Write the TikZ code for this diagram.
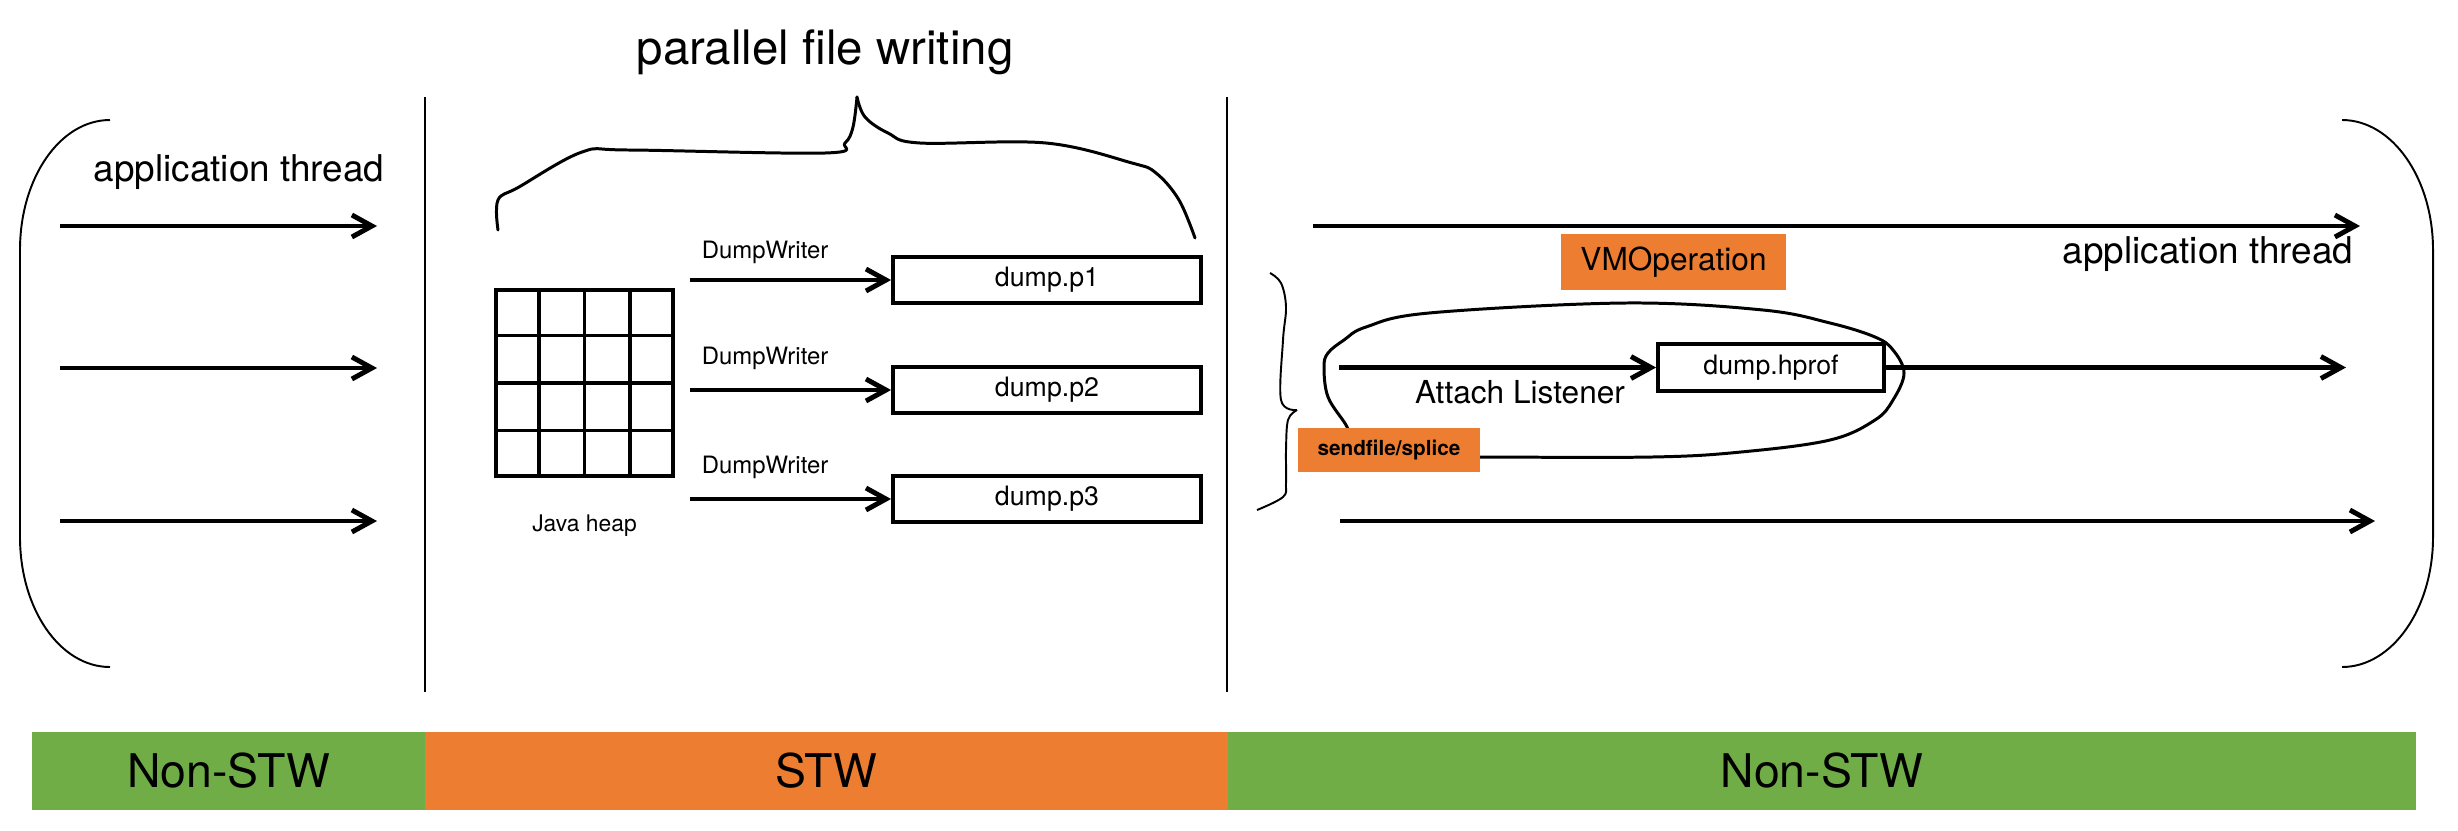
\documentclass[tikz,border=0pt]{standalone}
\usepackage{fontspec}
\setmainfont{TeX Gyre Heros}
\usetikzlibrary{arrows.meta, positioning, calc}
\definecolor{stworange}{RGB}{237, 125, 49}
\definecolor{nonstwgreen}{RGB}{112, 173, 71}
\tikzset{
  filebox/.style={rectangle, draw=black, line width=1.1pt, fill=white,
              minimum width=#1, minimum height=4.6mm, inner sep=0pt,
              font=\fontsize{7.6}{9}\selectfont},
  filebox/.default=30.8mm,
  opbox/.style={rectangle, fill=stworange, inner sep=0pt, minimum width=#1},
  phasebar/.style={rectangle, inner sep=0pt, minimum height=7.8mm,
              minimum width=#1, font=\fontsize{13.2}{15}\selectfont},
  thread/.style={-{Straight Barb[length=2mm, width=2.2mm]}, line width=1.4pt},
  handdrawn/.style={line width=0.85pt, line join=round, line cap=round},
  thinline/.style={line width=0.55pt},
}

\begin{document}
\begin{tikzpicture}[x=0.1mm, y=-0.1mm, every node/.style={inner sep=0pt}]
  \useasboundingbox (0,0) rectangle (2458,830);

  % title with its brace
  \node[font=\fontsize{13.5}{16}\selectfont] (title) at (825,52) {parallel file writing};
  \draw[handdrawn] plot[smooth, tension=0.6] coordinates {(498,230) (498,200) (519,187) (582,152)
        (629,150) (825,153) (845,143) (853,127) (857,97)};
  \draw[handdrawn] plot[smooth, tension=0.6] coordinates {(857,97) (865,117) (888,133) (920,143)
        (1046,143) (1132,163) (1156,173) (1179,200) (1195,238)};

  % round brackets
  \draw[thinline] (110,120) .. controls (60,120) and (20,178) .. (20,250) -- (20,537)
        .. controls (20,609) and (60,667) .. (110,667);
  \draw[thinline] (2342,120) .. controls (2392,120) and (2433,178) .. (2433,250) -- (2433,537)
        .. controls (2433,609) and (2392,667) .. (2342,667);

  % phase separators
  \draw[thinline] (425,97) -- (425,692);
  \draw[thinline] (1227,97) -- (1227,692);

  % left: application threads
  \node[font=\fontsize{10.5}{12}\selectfont] (appl) at (239,172) {application thread};
  \coordinate (la1) at (60,226);  \coordinate (lb1) at (377,226);
  \coordinate (la2) at (60,368);  \coordinate (lb2) at (377,368);
  \coordinate (la3) at (60,521);  \coordinate (lb3) at (377,521);
  \draw[thread] (la1) -- (lb1);
  \draw[thread] (la2) -- (lb2);
  \draw[thread] (la3) -- (lb3);

  % middle: heap split into parts
  \node[draw, line width=1.1pt, minimum width=17.7mm, minimum height=18.6mm] (heap) at (584.5,383) {};
  \foreach \i in {1,2,3} {
    \draw[line width=1.1pt] ($(heap.north west)!\i/4!(heap.north east)$) -- ($(heap.south west)!\i/4!(heap.south east)$);
    \draw[line width=1.1pt] ($(heap.north west)!\i/4!(heap.south west)$) -- ($(heap.north east)!\i/4!(heap.south east)$);
  }
  \node[font=\fontsize{6.5}{8}\selectfont, below=3.6mm of heap] (heaplbl) {Java heap};

  \node[filebox] (p1) at (1047,280) {dump.p1};
  \node[filebox] (p2) at (1047,390) {dump.p2};
  \node[filebox] (p3) at (1047,499) {dump.p3};
  \coordinate (w1) at (690,280);
  \coordinate (w2) at (690,390);
  \coordinate (w3) at (690,499);
  \draw[thread] (w1) -- (p1.west);
  \draw[thread] (w2) -- (p2.west);
  \draw[thread] (w3) -- (p3.west);
  \node[font=\fontsize{6.8}{8}\selectfont] (dw1) at (765,252) {DumpWriter};
  \node[font=\fontsize{6.8}{8}\selectfont] (dw2) at (765,358) {DumpWriter};
  \node[font=\fontsize{6.8}{8}\selectfont] (dw3) at (765,467) {DumpWriter};

  % right: application threads and the attach listener
  \coordinate (ra1) at (1313,226);  \coordinate (rb1) at (2360,226);
  \coordinate (ra3) at (1340,521);  \coordinate (rb3) at (2375,521);
  \draw[thread] (ra1) -- (rb1);
  \draw[thread] (ra3) -- (rb3);
  \node[font=\fontsize{10.5}{12}\selectfont] (appr) at (2208,254) {application thread};
  \node[opbox=22.5mm, minimum height=5.6mm, font=\fontsize{9}{11}\selectfont] (vmop) at (1673.5,262) {VMOperation};

  \draw[handdrawn] plot[smooth, tension=0.6] coordinates {(1352,440) (1346,425) (1328,397) (1324,367)
        (1328,353) (1344,340) (1366,327) (1429,313) (1625,303) (1763,310) (1830,323) (1875,337)
        (1893,350) (1904,373) (1893,400) (1875,420) (1830,440) (1741,452) (1652,457) (1480,457) (1470,457)};
  \draw[thinline, line join=round] plot[smooth, tension=0.6] coordinates {(1270,273) (1281,283) (1286,307)
        (1283,340) (1281,400) (1297,410)};
  \draw[thinline, line join=round] plot[smooth, tension=0.6] coordinates {(1297,410) (1288,420) (1286,450)
        (1286,483) (1283,497) (1257,510)};

  \node[filebox=22.6mm, minimum height=4.7mm] (hprof) at (1771,367.5) {dump.hprof};
  \coordinate (al) at (1339,367.5);
  \coordinate (he) at (2346,367.5);
  \draw[thread] (al) -- (hprof.west);
  \draw[thread] (hprof.east) -- (he);
  \node[font=\fontsize{9}{11}\selectfont] (attach) at (1520,392) {Attach Listener};
  \node[opbox=18.2mm, minimum height=4.4mm, font=\fontsize{5.9}{7}\selectfont\bfseries] (sendfile) at (1389,450) {sendfile/splice};

  % phases
  \node[phasebar=39.3mm, fill=nonstwgreen] (nstwl) at (228.5,771) {Non-STW};
  \node[phasebar=80.3mm, fill=stworange] (stw) at (826.5,771) {STW};
  \node[phasebar=118.8mm, fill=nonstwgreen] (nstwr) at (1822,771) {Non-STW};
\end{tikzpicture}
\end{document}
